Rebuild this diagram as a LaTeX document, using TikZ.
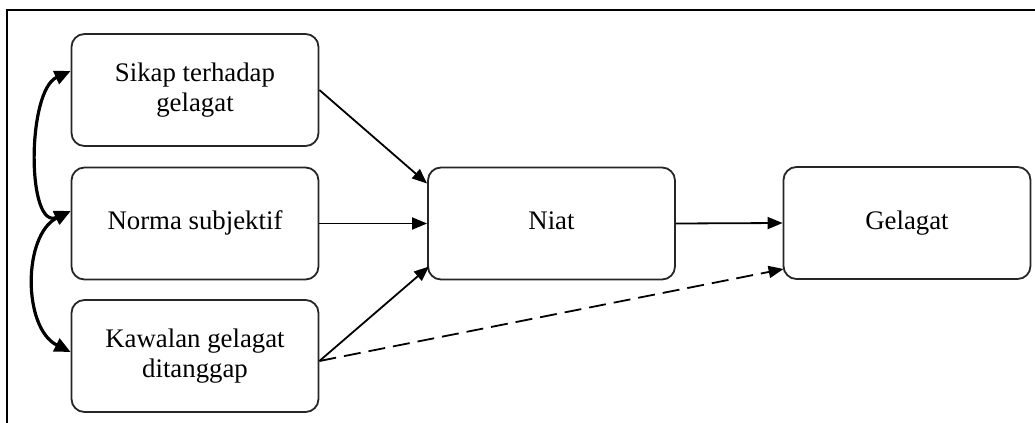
\documentclass[tikz,border=0pt]{standalone}
\usepackage{fontspec}
\setmainfont{Liberation Serif}
\usetikzlibrary{arrows.meta}
\tikzset{
  box/.style={draw=black!85, line width=0.9pt, rounded corners=6.5pt,
    minimum width=123.5pt, minimum height=56pt, inner sep=0pt, align=center,
    font=\fontsize{13.4pt}{15.3pt}\selectfont},
  oneline/.style={text height=9pt, text depth=3pt},
  arr/.style={line width=0.9pt, -{Triangle[length=7.5pt,width=6pt]}},
  dasharr/.style={arr, dash pattern=on 8.5pt off 4pt},
  bidir/.style={line width=1.6pt, {Triangle[length=8pt,width=7pt]}-{Triangle[length=8pt,width=7pt]}},
  frame/.style={line width=1pt, black}
}
\begin{document}
\begin{tikzpicture}[x=0.5pt,y=-0.5pt]
\useasboundingbox (0,0) rectangle (1035,423);
\coordinate (fTR) at (1035,10);
\coordinate (fTL) at (7,10);
\coordinate (fBL) at (7,423);
\draw[frame] (fTR) -- (fTL) -- (fBL);

\node[box] (sikap) at (195,90) {Sikap terhadap\\gelagat};
\node[box, oneline] (norma) at (195,223.5) {Norma subjektif};
\node[box] (kawalan) at (195,356) {Kawalan gelagat\\ditanggap};
\node[box, oneline] (niat) at (551.5,223.5) {Niat};
\node[box, oneline] (gelagat) at (907,223) {Gelagat};

\draw[arr] (sikap.east) -- ([yshift=20pt]niat.west);
\draw[arr] (norma.east) -- (niat.west);
\draw[arr] ([yshift=-2.5pt]kawalan.east) -- ([yshift=-21.5pt,xshift=1pt]niat.west);
\draw[dasharr] ([yshift=-2.5pt]kawalan.east) -- ([yshift=-23pt,xshift=0.5pt]gelagat.west);
\draw[arr] (niat.east) -- (gelagat.west);

\draw[bidir] ([yshift=6.25pt]norma.west) .. controls +(-22pt,-10pt) and +(-22pt,-10pt) .. ([yshift=9.5pt]sikap.west);
\draw[bidir] ([yshift=6.25pt]norma.west) .. controls +(-24pt,-12pt) and +(-24pt,12pt) .. ([yshift=2pt]kawalan.west);
\end{tikzpicture}
\end{document}
